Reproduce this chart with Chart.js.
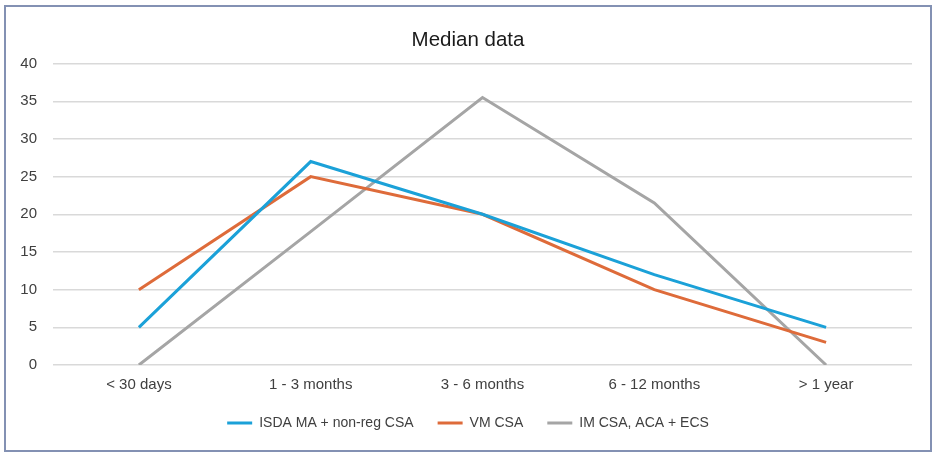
<!DOCTYPE html>
<html>
<head>
<meta charset="utf-8">
<script src="https://cdn.jsdelivr.net/npm/chart.js@4.4.1/dist/chart.umd.min.js"></script>
<style>
  body { margin: 0; background: #fff; }
  #wrap {
    position: absolute; left: 4px; top: 5px;
    width: 924px; height: 443px;
    border: 2px solid #8391b3; background: #fff;
  }
</style>
</head>
<body>
<div id="wrap"><canvas id="chart"></canvas></div>
<script>
const categories = ["< 30 days", "1 - 3 months", "3 - 6 months", "6 - 12 months", "> 1 year"];
const isdaValues = [5, 27, 20, 12, 5];
const vmValues = [10, 25, 20, 10, 3];
const imValues = [0, 17.7, 35.5, 21.5, 0];
const yTicks = [0, 5, 10, 15, 20, 25, 30, 35, 40];

const ctx = document.getElementById("chart").getContext("2d");

function lineSet(label, data, color) {
    return {
        label,
        data,
        borderColor: color,
        backgroundColor: color,
        borderWidth: 3,
        pointRadius: 0,
        tension: 0,
        fill: false,
    };
}

new Chart(ctx, {
    type: "line",
    data: {
        labels: categories,
        datasets: [
            lineSet("ISDA MA + non-reg CSA", isdaValues, "#1ba1d8"),
            lineSet("VM CSA", vmValues, "#de6b3a"),
            lineSet("IM CSA, ACA + ECS", imValues, "#a5a5a5"),
        ]
    },
    options: {
        responsive: true,
        maintainAspectRatio: false,
        animation: false,
        layout: { padding: { left: 0, right: 0, top: 0, bottom: 10 } },
        plugins: {
            title: {
                display: true,
                text: "Median data",
                color: "#1a1a1a",
                font: { family: "Liberation Sans", size: 20.5, weight: "normal" },
                padding: { top: 21, bottom: 11 }
            },
            legend: {
                position: "bottom",
                labels: {
                    usePointStyle: true,
                    pointStyle: "line",
                    pointStyleWidth: 25,
                    padding: 24,
                    color: "#404040",
                    font: { family: "Liberation Sans", size: 14 }
                }
            },
            tooltip: { enabled: false }
        },
        scales: {
            x: {
                offset: true,
                grid: { display: false, drawTicks: false },
                border: { display: false },
                ticks: {
                    padding: 11,
                    color: "#404040",
                    font: { family: "Liberation Sans", size: 15 }
                },
                afterFit: (scale) => { scale.height = 27; }
            },
            y: {
                min: 0,
                max: 40,
                afterBuildTicks: (scale) => { scale.ticks = yTicks.map(v => ({ value: v })); },
                grid: { color: "#d9d9d9", lineWidth: 1.5, drawTicks: false },
                border: { display: false },
                ticks: {
                    padding: 16,
                    color: "#404040",
                    font: { family: "Liberation Sans", size: 15 }
                },
                afterFit: (scale) => { scale.width = 47; }
            },
            // empty right-hand axis, keeps the plot off the right border
            spacer: {
                position: "right",
                grid: { display: false },
                border: { display: false },
                ticks: { display: false },
                afterFit: (scale) => { scale.width = 18; }
            }
        }
    }
});
</script>
</body>
</html>
